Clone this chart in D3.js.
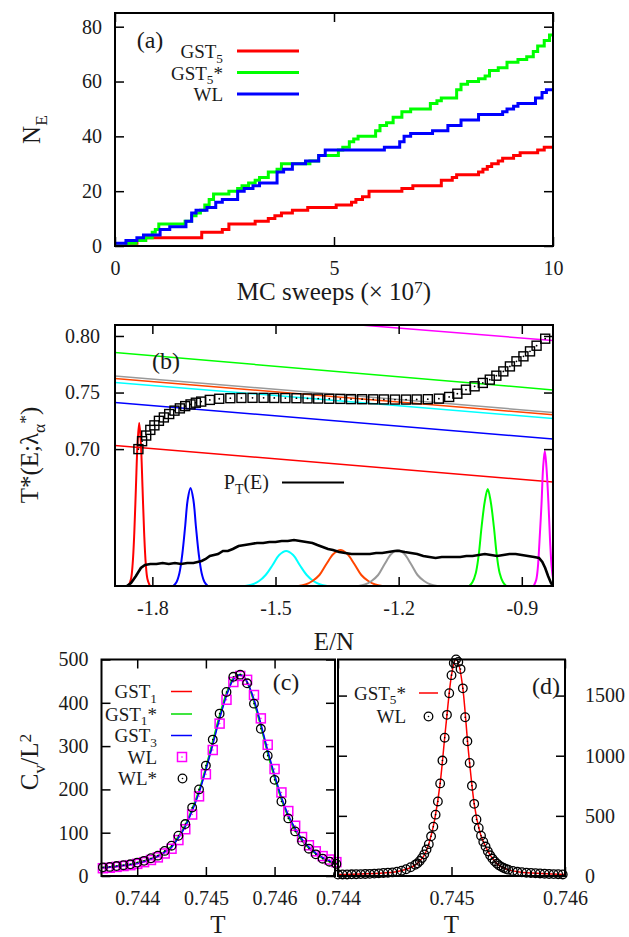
<!DOCTYPE html>
<html>
<head>
<meta charset="utf-8">
<script src="https://cdn.jsdelivr.net/npm/d3@7"></script>
<style>
body { margin: 0; background: #fff; }
text { font-family: "Liberation Serif", "Times New Roman", serif; fill: #1a1a1a; }
</style>
</head>
<body>
<script>
// ---------- data ----------
// (a) number of distinct energies visited vs MC sweeps (x 10^7), step curves
const gst5X  = [0, 0.25, 0.5, 0.7, 1.98, 2.45, 2.6, 3.2, 3.5, 3.65, 3.8, 4.05, 4.4, 5.05, 5.4, 5.5, 5.65, 5.8, 6.55, 6.8, 7.45, 7.7, 7.8, 8.3, 8.4, 8.5, 8.6, 8.75, 8.85, 9.1, 9.25, 9.65, 9.8, 10];
const gst5Y  = [0, 1, 2, 3, 5, 6, 8, 9, 10, 11, 12, 13, 14, 15, 16, 17, 18, 20, 21, 22, 24, 25, 26, 27, 28, 29, 30, 31, 32, 33, 34, 35, 36, 36];
const gst5sX = [0, 0.3, 0.48, 0.7, 0.85, 0.92, 1.0, 1.6, 1.75, 1.85, 1.95, 2.05, 2.15, 2.25, 2.6, 2.8, 2.9, 3.05, 3.2, 3.3, 3.5, 3.7, 3.8, 4.45, 4.65, 5.1, 5.2, 5.35, 5.45, 5.55, 5.95, 6.05, 6.2, 6.35, 6.55, 6.75, 7.2, 7.35, 7.45, 7.8, 7.9, 8.05, 8.3, 8.45, 8.55, 8.75, 8.95, 9.2, 9.4, 9.55, 9.65, 9.8, 9.92, 10];
const gst5sY = [0, 1, 2, 3, 5, 6, 8, 9, 11, 12, 13, 15, 17, 19, 20, 21, 22, 23, 24, 25, 27, 28, 30, 31, 33, 35, 36, 38, 39, 40, 42, 44, 45, 47, 49, 50, 52, 53, 54, 57, 59, 60, 61, 62, 64, 65, 67, 68, 69, 71, 73, 75, 77, 77];
const wlX    = [0, 0.25, 0.5, 0.65, 1.03, 1.25, 1.62, 1.75, 1.85, 2.1, 2.3, 2.45, 2.8, 2.95, 3.15, 3.3, 3.7, 3.85, 4.05, 4.35, 4.65, 4.8, 6.15, 6.5, 6.6, 6.75, 7.25, 7.6, 7.9, 8.3, 8.85, 8.95, 9.1, 9.2, 9.6, 9.75, 9.85, 10];
const wlY    = [1, 2, 3, 4, 6, 7, 9, 12, 13, 14, 16, 17, 20, 21, 22, 23, 27, 28, 30, 31, 33, 35, 36, 38, 40, 41, 42, 44, 46, 48, 49, 50, 51, 52, 54, 56, 57, 57];
const aTicksX = [0, 5, 10];
const aTicksY = [0, 20, 40, 60, 80];

// (b) T*(E) squares
const tStarE = [-1.834, -1.825, -1.815, -1.805, -1.795, -1.784, -1.772, -1.759, -1.746, -1.733, -1.720, -1.707, -1.694, -1.681, -1.660, -1.637, -1.610, -1.583, -1.556, -1.529, -1.503, -1.476, -1.449, -1.422, -1.396, -1.369, -1.342, -1.316, -1.289, -1.262, -1.236, -1.209, -1.182, -1.156, -1.129, -1.102, -1.077, -1.057, -1.036, -1.015, -0.995, -0.978, -0.962, -0.945, -0.929, -0.913, -0.896, -0.880, -0.864, -0.843];
const tStarT = [0.700, 0.707, 0.712, 0.717, 0.721, 0.725, 0.728, 0.731, 0.734, 0.736, 0.738, 0.7395, 0.741, 0.742, 0.7435, 0.7445, 0.745, 0.7452, 0.7453, 0.7453, 0.7452, 0.7451, 0.7450, 0.7448, 0.7447, 0.7445, 0.7444, 0.7442, 0.7441, 0.7440, 0.7439, 0.7438, 0.7438, 0.7439, 0.7441, 0.7446, 0.7461, 0.7490, 0.7525, 0.7555, 0.7585, 0.7614, 0.7649, 0.7687, 0.7731, 0.7776, 0.7820, 0.7864, 0.7914, 0.7976];
// (b) straight T(E; lambda) lines, value at E=-1.9 and at E=-0.8
const lamColors = ["#ff0000", "#0000ff", "#00ffff", "#ff4500", "#999999", "#00ff00", "#ff00ff"];
const lamE      = [-1.9, -0.8];
const lamLeft   = [0.7035, 0.7415, 0.7592, 0.7627, 0.7650, 0.7856, 0.8274];
const lamRight  = [0.6702, 0.7081, 0.7264, 0.7296, 0.7317, 0.7516, 0.7953];
// (b) replica energy histograms (arbitrary units)
const histRed     = [[-1.858,0],[-1.852,7],[-1.848,22],[-1.844,53],[-1.840,99],[-1.836,143],[-1.832,163],[-1.828,143],[-1.824,99],[-1.820,53],[-1.816,22],[-1.812,7],[-1.806,0]];
const histBlue    = [[-1.749,0],[-1.741,4],[-1.734,13],[-1.727,32],[-1.720,60],[-1.714,86],[-1.707,98],[-1.700,86],[-1.694,60],[-1.687,32],[-1.680,13],[-1.673,4],[-1.665,0]];
const histCyan    = [[-1.574,0],[-1.557,1.5],[-1.540,5],[-1.524,11],[-1.507,21],[-1.491,31],[-1.474,35],[-1.457,31],[-1.441,21],[-1.424,11],[-1.408,5],[-1.391,1.5],[-1.374,0]];
const histOrange  = [[-1.444,0],[-1.427,1.5],[-1.410,5],[-1.393,11],[-1.376,22],[-1.359,32],[-1.342,36],[-1.325,32],[-1.308,22],[-1.291,11],[-1.274,5],[-1.257,1.5],[-1.240,0]];
const histGray    = [[-1.298,0],[-1.282,1.5],[-1.266,5],[-1.250,11],[-1.234,22],[-1.218,32],[-1.202,36],[-1.186,32],[-1.170,22],[-1.154,11],[-1.138,5],[-1.122,1.5],[-1.106,0]];
const histGreen   = [[-1.028,0],[-1.020,4],[-1.012,13],[-1.005,31],[-0.998,59],[-0.990,85],[-0.983,97],[-0.976,85],[-0.968,59],[-0.961,31],[-0.954,13],[-0.946,4],[-0.938,0]];
const histMagenta = [[-0.871,0],[-0.865,6],[-0.861,18],[-0.857,44],[-0.852,82],[-0.848,119],[-0.844,135],[-0.840,119],[-0.835,82],[-0.831,44],[-0.827,18],[-0.823,6],[-0.817,0]];
// (b) total histogram P_T(E)
const ptE = [-1.862, -1.852, -1.840, -1.828, -1.818, -1.805, -1.790, -1.775, -1.760, -1.745, -1.730, -1.715, -1.700, -1.690, -1.680, -1.670, -1.660, -1.650, -1.640, -1.628, -1.616, -1.604, -1.590, -1.575, -1.560, -1.545, -1.530, -1.515, -1.500, -1.485, -1.470, -1.455, -1.440, -1.425, -1.410, -1.398, -1.385, -1.372, -1.360, -1.345, -1.330, -1.315, -1.300, -1.285, -1.270, -1.255, -1.240, -1.225, -1.210, -1.198, -1.185, -1.170, -1.155, -1.140, -1.125, -1.110, -1.095, -1.080, -1.065, -1.050, -1.035, -1.020, -1.005, -0.990, -0.975, -0.960, -0.945, -0.930, -0.915, -0.900, -0.885, -0.870, -0.858, -0.850, -0.843, -0.836, -0.829, -0.824];
const ptH = [0, 3, 10, 18, 21, 22, 22, 23, 22, 23, 22, 23, 23, 24, 25, 27, 30, 31, 32, 35, 35, 37, 40, 41, 42, 43, 43, 44, 44, 45, 45, 46, 45, 44, 43, 41, 39, 37, 36, 34, 33, 32, 32, 32, 32, 33, 33, 34, 35, 35, 34, 33, 32, 30, 29, 28, 29, 29, 29, 29, 30, 30, 31, 32, 31, 30, 31, 32, 32, 31, 30, 29, 28, 24, 18, 10, 3, 0];
const bTicksX = [-1.8, -1.5, -1.2, -0.9];
const bTicksY = [0.70, 0.75, 0.80];

// (c) specific heat, L small
const cT     = [0.7435, 0.7436, 0.7437, 0.7438, 0.7439, 0.7440, 0.7441, 0.7442, 0.7443, 0.7444, 0.7445, 0.7446, 0.7447, 0.7448, 0.7449, 0.7450, 0.7451, 0.7452, 0.7453, 0.7454, 0.7455, 0.7456, 0.7457, 0.7458, 0.7459, 0.7460, 0.7461, 0.7462, 0.7463, 0.7464, 0.7465, 0.7466, 0.7467, 0.7468, 0.7469];
const gst1Cv  = [19, 20, 22, 24, 26, 30, 34, 39, 46, 56, 68, 90, 116, 153, 195, 248, 307, 367, 419, 455, 464, 448, 405, 348, 286, 229, 178, 138, 107, 83, 65, 52, 42, 34, 29];
const gst1sCv = [20, 21, 23, 25, 27, 31, 35, 40, 47, 57, 69, 92, 118, 156, 198, 252, 312, 372, 423, 458, 466, 447, 402, 345, 283, 226, 176, 136, 105, 81, 64, 51, 41, 33, 28];
const gst3Cv  = [19, 20, 22, 24, 26, 29, 33, 39, 45, 55, 66, 88, 114, 150, 192, 245, 303, 363, 416, 454, 464, 449, 408, 352, 290, 234, 182, 141, 110, 85, 67, 53, 43, 35, 30];
const wlCv    = [18, 19, 21, 23, 25, 28, 32, 37, 43, 52, 63, 83, 108, 142, 184, 235, 291, 352, 407, 448, 462, 453, 418, 364, 303, 247, 193, 150, 116, 90, 71, 57, 46, 38, 32];
const wlsCv   = [20, 21, 23, 25, 27, 31, 35, 41, 47, 58, 70, 93, 120, 158, 200, 255, 315, 375, 425, 460, 465, 445, 398, 340, 278, 222, 172, 133, 103, 80, 63, 50, 40, 33, 28];
const cTicksX = [0.744, 0.745, 0.746];
const cTicksY = [0, 100, 200, 300, 400, 500];

// (d) specific heat, L large
const dT    = [0.74400, 0.74404, 0.74408, 0.74412, 0.74416, 0.74420, 0.74424, 0.74428, 0.74432, 0.74436, 0.74440, 0.74444, 0.74448, 0.74452, 0.74456, 0.74460, 0.74464, 0.74468,
               0.74470, 0.74472, 0.74474, 0.74476, 0.74478, 0.74480, 0.74482, 0.74484, 0.74486, 0.74488, 0.74490, 0.74492, 0.74494, 0.74496, 0.74498, 0.74500, 0.74502, 0.74504, 0.74506, 0.74508, 0.74510,
               0.74512, 0.74514, 0.74516, 0.74518, 0.74520, 0.74522, 0.74524, 0.74526, 0.74528, 0.74530, 0.74532, 0.74534, 0.74536, 0.74538, 0.74540, 0.74542, 0.74544, 0.74546, 0.74548, 0.74550,
               0.74554, 0.74558, 0.74562, 0.74566, 0.74570, 0.74574, 0.74578, 0.74582, 0.74586, 0.74590, 0.74594, 0.74598];
const dWlCv = [12, 13, 13, 14, 15, 16, 17, 18, 20, 22, 25, 27, 30, 36, 44, 56, 73, 94,
               105, 125, 150, 180, 220, 265, 330, 410, 510, 620, 770, 960, 1150, 1340, 1520, 1670, 1770, 1800, 1780, 1720, 1560,
               1320, 1120, 940, 750, 600, 470, 400, 335, 285, 245, 205, 172, 145, 122, 103, 88, 76, 67, 59, 53,
               42, 35, 31, 27, 25, 23, 21, 19, 17, 16, 15, 13];
const dGstT  = [0.7440, 0.7442, 0.7444, 0.7445, 0.7446, 0.7447, 0.7448, 0.74485, 0.7449, 0.74495, 0.7450, 0.74504, 0.7451, 0.74515, 0.7452, 0.74525, 0.7453, 0.7454, 0.7455, 0.7456, 0.7458, 0.7460];
const dGstCv = [12, 17, 25, 33, 56, 105, 265, 460, 770, 1245, 1670, 1800, 1560, 1030, 600, 365, 245, 103, 53, 33, 20, 13];
const dTicksX = [0.744, 0.745, 0.746];
const dTicksY = [0, 500, 1000, 1500];

// ---------- layout ----------
const boxA = {l: 115, r: 553, t: 13, b: 246};
const boxB = {l: 115, r: 553, t: 325, b: 586};
const boxC = {l: 101.5, r: 335, t: 659.5, b: 876};
const boxD = {l: 338, r: 565, t: 659.5, b: 876};
const legFont = 19;

const svg = d3.select("body").append("svg")
  .attr("width", 629).attr("height", 937);

function addClip(id, b) {
  svg.append("clipPath").attr("id", id).append("rect")
    .attr("x", b.l).attr("y", b.t).attr("width", b.r - b.l).attr("height", b.b - b.t);
}

// text with sub/superscripts: parts are strings or [string, "sub"|"sup"]
function rich(x, y, parts, size, anchor, rotate) {
  const t = svg.append("text").style("font-size", size + "px").attr("text-anchor", anchor);
  if (rotate) t.attr("transform", "translate(" + x + "," + y + ") rotate(-90)");
  else t.attr("x", x).attr("y", y);
  let cur = 0;
  parts.forEach(function(p) {
    const s = Array.isArray(p) ? p[0] : p;
    const kind = Array.isArray(p) ? p[1] : null;
    const off = kind === "sub" ? 0.26 * size : kind === "sup" ? -0.3 * size : 0;
    const sp = t.append("tspan").attr("dy", off - cur).text(s);
    if (kind) sp.style("font-size", (0.7 * size) + "px");
    cur = off;
  });
  return t;
}

// inward ticks on all four sides, labels where asked
function axes(b, x, y, o) {
  const ts = -9;
  const gb = svg.append("g").attr("transform", "translate(0," + b.b + ")")
    .call(d3.axisBottom(x).tickValues(o.xt).tickSize(ts).tickPadding(o.xpad).tickFormat(o.fx));
  const gt = svg.append("g").attr("transform", "translate(0," + b.t + ")")
    .call(d3.axisTop(x).tickValues(o.xt).tickSize(ts).tickFormat(""));
  const gl = svg.append("g").attr("transform", "translate(" + b.l + ",0)")
    .call(d3.axisLeft(y).tickValues(o.yt).tickSize(ts).tickPadding(o.ypad || 13).tickFormat(o.fyLeft || ""));
  const gr = svg.append("g").attr("transform", "translate(" + b.r + ",0)")
    .call(d3.axisRight(y).tickValues(o.yt).tickSize(ts).tickPadding(o.ypadR || 20).tickFormat(o.fyRight || ""));
  [gb, gt, gl, gr].forEach(function(g) {
    g.select(".domain").remove();
    g.selectAll(".tick line").attr("stroke", "#000").attr("stroke-width", 1.5);
    g.selectAll(".tick text").style("font-size", "20px").attr("fill", "#1a1a1a");
  });
  svg.append("rect").attr("x", b.l).attr("y", b.t)
    .attr("width", b.r - b.l).attr("height", b.b - b.t)
    .attr("fill", "none").attr("stroke", "#000").attr("stroke-width", 2);
}

// ---------- panel (a) ----------
const xA = d3.scaleLinear().domain([0, 10]).range([boxA.l, boxA.r]);
const yA = d3.scaleLinear().domain([0, 85]).range([boxA.b, boxA.t]);
addClip("clipA", boxA);
const stepLine = d3.line().x(d => xA(d[0])).y(d => yA(d[1])).curve(d3.curveStepAfter);
const aSeries = [
  {name: ["GST", ["5", "sub"]], x: gst5X, y: gst5Y, color: "#ff0000"},
  {name: ["GST", ["5", "sub"], "*"], x: gst5sX, y: gst5sY, color: "#00ff00"},
  {name: ["WL"], x: wlX, y: wlY, color: "#0000ff"}
];
aSeries.forEach(function(s, i) {
  svg.append("path").attr("clip-path", "url(#clipA)")
    .attr("d", stepLine(d3.zip(s.x, s.y)))
    .attr("fill", "none").attr("stroke", s.color).attr("stroke-width", 3);
  const ly = [51, 72.5, 94][i];
  svg.append("line").attr("x1", 237).attr("x2", 299).attr("y1", ly).attr("y2", ly)
    .attr("stroke", s.color).attr("stroke-width", 3);
  rich(223, ly + 7, s.name, legFont, "end");
});
axes(boxA, xA, yA, {xt: aTicksX, yt: aTicksY, xpad: 15, fx: d3.format("d"), fyLeft: d3.format("d")});
rich(150, 48, ["(a)"], 24, "middle");
rich(40, 129.5, ["N", ["E", "sub"]], 25, "middle", true);
rich(334, 300, ["MC sweeps (\u00d7 10", ["7", "sup"], ")"], 25, "middle");

// ---------- panel (b) ----------
const xB = d3.scaleLinear().domain([-1.891, -0.824]).range([boxB.l, boxB.r]);
const yB = d3.scaleLinear().domain([0.579, 0.8097]).range([boxB.b, boxB.t]);
const hB = d3.scaleLinear().domain([0, 170]).range([boxB.b, boxB.b - 170]);
addClip("clipB", boxB);
const gB = svg.append("g").attr("clip-path", "url(#clipB)");
lamColors.forEach(function(c, i) {
  gB.append("line")
    .attr("x1", xB(lamE[0])).attr("y1", yB(lamLeft[i]))
    .attr("x2", xB(lamE[1])).attr("y2", yB(lamRight[i]))
    .attr("stroke", c).attr("stroke-width", 1.5);
});
const histLine = d3.line().x(d => xB(d[0])).y(d => hB(d[1])).curve(d3.curveCatmullRom.alpha(0.5));
[histRed, histBlue, histCyan, histOrange, histGray, histGreen, histMagenta].forEach(function(h, i) {
  gB.append("path").attr("d", histLine(h))
    .attr("fill", "none").attr("stroke", lamColors[i]).attr("stroke-width", 2);
});
gB.append("path")
  .attr("d", d3.line().x(d => xB(d[0])).y(d => hB(d[1]))(d3.zip(ptE, ptH)))
  .attr("fill", "none").attr("stroke", "#000").attr("stroke-width", 2.6);
const sq = svg.append("g");
d3.zip(tStarE, tStarT).forEach(function(d) {
  sq.append("rect").attr("x", xB(d[0]) - 4.5).attr("y", yB(d[1]) - 4.5)
    .attr("width", 9).attr("height", 9)
    .attr("fill", "none").attr("stroke", "#000").attr("stroke-width", 1.4);
  sq.append("circle").attr("cx", xB(d[0])).attr("cy", yB(d[1])).attr("r", 0.9).attr("fill", "#000");
});
axes(boxB, xB, yB, {xt: bTicksX, yt: bTicksY, xpad: 15, ypad: 15,
  fx: d => d.toFixed(1), fyLeft: d => d.toFixed(2)});
rich(166, 369, ["(b)"], 24, "middle");
rich(269, 489, ["P", ["T", "sub"], "(E)"], 20, "end");
svg.append("line").attr("x1", 282).attr("x2", 344).attr("y1", 482.5).attr("y2", 482.5)
  .attr("stroke", "#000").attr("stroke-width", 2);
rich(38, 455, ["T*(E;\u03bb", ["\u03b1", "sub"], ["*", "sup"], ")"], 25, "middle", true);
rich(334, 650, ["E/N"], 25, "middle");

// ---------- panel (c) ----------
const xC = d3.scaleLinear().domain([0.74348, 0.74688]).range([boxC.l, boxC.r]);
const yC = d3.scaleLinear().domain([0, 500]).range([boxC.b, boxC.t]);
addClip("clipC", boxC);
const lineC = d3.line().x(d => xC(d[0])).y(d => yC(d[1])).curve(d3.curveMonotoneX);
const cLines = [
  {name: ["GST", ["1", "sub"]], v: gst1Cv, color: "#ff0000"},
  {name: ["GST", ["1", "sub"], "*"], v: gst1sCv, color: "#00dd00"},
  {name: ["GST", ["3", "sub"]], v: gst3Cv, color: "#0000ff"}
];
const cRows = [691.5, 714, 735.5, 757, 778.5];
cLines.forEach(function(s, i) {
  svg.append("path").attr("clip-path", "url(#clipC)")
    .attr("d", lineC(d3.zip(cT, s.v)))
    .attr("fill", "none").attr("stroke", s.color).attr("stroke-width", 1.5);
  svg.append("line").attr("x1", 171).attr("x2", 192).attr("y1", cRows[i]).attr("y2", cRows[i])
    .attr("stroke", s.color).attr("stroke-width", 1.5);
  rich(157, cRows[i] + 6.5, s.name, legFont, "end");
});
function square(cx, cy, col) {
  svg.append("rect").attr("x", cx - 4.5).attr("y", cy - 4.5).attr("width", 9).attr("height", 9)
    .attr("fill", "none").attr("stroke", col).attr("stroke-width", 1.5);
  svg.append("circle").attr("cx", cx).attr("cy", cy).attr("r", 0.8).attr("fill", col);
}
function ring(cx, cy) {
  svg.append("circle").attr("cx", cx).attr("cy", cy).attr("r", 4.3)
    .attr("fill", "none").attr("stroke", "#000").attr("stroke-width", 1.3);
  svg.append("circle").attr("cx", cx).attr("cy", cy).attr("r", 0.8).attr("fill", "#000");
}
d3.zip(cT, wlCv).forEach(d => square(xC(d[0]), yC(d[1]), "#ff00ff"));
d3.zip(cT, wlsCv).forEach(d => ring(xC(d[0]), yC(d[1])));
square(182, cRows[3], "#ff00ff");
rich(157, cRows[3] + 6.5, ["WL"], legFont, "end");
ring(182.5, cRows[4]);
rich(157, cRows[4] + 6.5, ["WL*"], legFont, "end");
axes(boxC, xC, yC, {xt: cTicksX, yt: cTicksY, xpad: 15, ypad: 13,
  fx: d => d.toFixed(3), fyLeft: d3.format("d")});
rich(286, 690, ["(c)"], 24, "middle");
rich(38, 762, ["C", ["v", "sub"], "/L", ["2", "sup"]], 25, "middle", true);
rich(218, 933, ["T"], 25, "middle");

// ---------- panel (d) ----------
const xD = d3.scaleLinear().domain([0.744, 0.746]).range([boxD.l, boxD.r]);
const yD = d3.scaleLinear().domain([0, 1800]).range([boxD.b, boxD.t]);
addClip("clipD", boxD);
svg.append("path").attr("clip-path", "url(#clipD)")
  .attr("d", d3.line().x(d => xD(d[0])).y(d => yD(d[1])).curve(d3.curveMonotoneX)(d3.zip(dGstT, dGstCv)))
  .attr("fill", "none").attr("stroke", "#ff0000").attr("stroke-width", 1.5);
d3.zip(dT, dWlCv).forEach(d => ring(xD(d[0]), yD(d[1])));
svg.append("line").attr("x1", 419).attr("x2", 438).attr("y1", 693).attr("y2", 693)
  .attr("stroke", "#ff0000").attr("stroke-width", 1.5);
rich(406, 699.5, ["GST", ["5", "sub"], "*"], legFont, "end");
ring(428.5, 716.5);
rich(406, 723, ["WL"], legFont, "end");
axes(boxD, xD, yD, {xt: dTicksX, yt: dTicksY, xpad: 15, ypadR: 20,
  fx: d => d.toFixed(3), fyRight: d3.format("d")});
rich(546, 694, ["(d)"], 24, "middle");
rich(451.5, 933, ["T"], 25, "middle");
</script>
</body>
</html>
